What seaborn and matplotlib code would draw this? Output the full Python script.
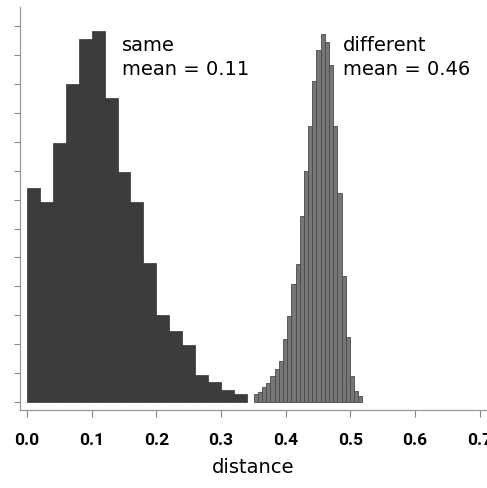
import matplotlib
matplotlib.use("Agg")
import matplotlib.pyplot as plt
import numpy as np
import pandas as pd
import seaborn as sns

# "same" pairs: 17 bins of width 0.02 from 0.0 to 0.34 (percent per bin)
same_edges = np.round(np.arange(0.0, 0.3401, 0.02), 4)
same_pct = [7.40, 6.92, 8.96, 11.00, 12.56, 12.84, 10.52, 7.96, 6.92,
            4.81, 3.01, 2.46, 1.97, 0.93, 0.69, 0.42, 0.28]

# "different" pairs: 26 narrow bins from 0.3505 to ~0.518
diff_start, diff_width = 0.3505, 0.00646
diff_pct = [0.28, 0.36, 0.52, 0.66, 0.90, 1.14, 1.43, 2.18, 2.98, 4.08,
            4.78, 6.44, 7.99, 9.55, 11.10, 12.20, 12.73, 12.46, 11.66, 9.55,
            7.23, 4.36, 2.25, 0.90, 0.38, 0.21]
diff_edges = diff_start + diff_width * np.arange(len(diff_pct) + 1)

xticks = [0.0, 0.1, 0.2, 0.3, 0.4, 0.5, 0.6, 0.7]

df_same = pd.DataFrame({
    "distance": (same_edges[:-1] + same_edges[1:]) / 2,
    "pct": same_pct,
})
df_diff = pd.DataFrame({
    "distance": (diff_edges[:-1] + diff_edges[1:]) / 2,
    "pct": diff_pct,
})

sns.set_style("white")
fig = plt.figure(figsize=(4.87, 4.89), dpi=100)
ax = fig.add_axes([0.041, 0.1595, 0.959, 0.824])

sns.histplot(data=df_same, x="distance", weights="pct", bins=list(same_edges),
             ax=ax, color="#3c3c3c", edgecolor="#333333", linewidth=0.5,
             alpha=1)
sns.histplot(data=df_diff, x="distance", weights="pct", bins=list(diff_edges),
             ax=ax, color="#767676", edgecolor="#4a4a4a", linewidth=0.6,
             alpha=1)

ax.set_xlim(-0.0108, 0.711)
ax.set_ylim(-0.28, 13.67)
ax.set_xticks(xticks)
ax.set_xticklabels([f"{t:.1f}" for t in xticks], fontsize=12.5,
                   fontweight="bold", family="Roboto", color="black")
ax.set_yticks(range(0, 14))
ax.set_yticklabels([])
ax.tick_params(axis="x", direction="out", length=5, color="#888888",
               pad=11, bottom=True)
ax.tick_params(axis="y", direction="out", length=4, color="#888888",
               left=True)
ax.set_ylabel("")
ax.set_xlabel("distance", fontsize=14, labelpad=7, color="black",
              fontweight="medium")

for side in ["top", "right"]:
    ax.spines[side].set_visible(False)
for side in ["left", "bottom"]:
    ax.spines[side].set_color("#999999")
    ax.spines[side].set_linewidth(0.9)

ax.text(0.147, 12.7, "same\nmean = 0.11", fontsize=14, va="top",
        ha="left", linespacing=1.3, color="black", fontweight="medium")
ax.text(0.488, 12.7, "different\nmean = 0.46", fontsize=14, va="top",
        ha="left", linespacing=1.3, color="black", fontweight="medium")

fig.savefig("out.png", dpi=100)
